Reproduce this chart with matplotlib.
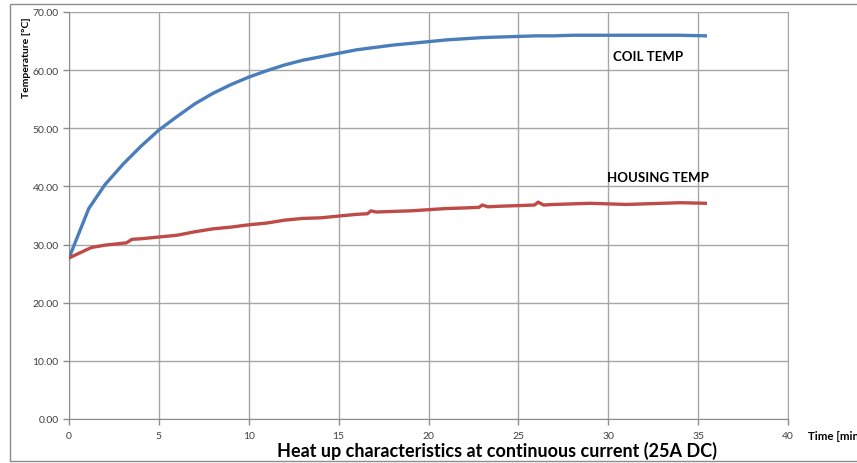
import matplotlib.pyplot as plt
from matplotlib.patches import Rectangle

# coil temperature readings (time in min, temp in °C)
coil_t = [0, 1.1, 2, 3, 4, 5, 6, 7, 8, 9, 10, 11, 12, 13, 14, 15, 16, 17, 18,
          19, 20, 21, 22, 23, 24, 25, 26, 27, 28, 29, 30, 32, 34, 35.4]
coil_temp = [27.7, 36.2, 40.3, 43.8, 46.9, 49.7, 52.0, 54.2, 56.0, 57.5, 58.8,
             59.9, 60.9, 61.7, 62.3, 62.9, 63.5, 63.9, 64.3, 64.6, 64.9, 65.2,
             65.4, 65.6, 65.7, 65.8, 65.9, 65.9, 66.0, 66.0, 66.0, 66.0, 66.0, 65.9]

# housing temperature readings
housing_t = [0, 1.25, 2, 3.2, 3.5, 4, 5, 6, 7, 8, 9, 10, 11, 12, 13, 14, 15, 16,
             16.6, 16.8, 17.1, 18, 19, 20, 21, 22, 22.8, 23.0, 23.3, 24, 25, 25.9,
             26.1, 26.4, 27, 28, 29, 30, 31, 32, 33, 34, 35.4]
housing_temp = [27.7, 29.5, 29.9, 30.3, 30.9, 31.0, 31.3, 31.6, 32.2, 32.7, 33.0,
                33.4, 33.7, 34.2, 34.5, 34.6, 34.9, 35.2, 35.3, 35.8, 35.6, 35.7,
                35.8, 36.0, 36.2, 36.3, 36.4, 36.8, 36.5, 36.6, 36.7, 36.8, 37.3,
                36.8, 36.9, 37.0, 37.1, 37.0, 36.9, 37.0, 37.1, 37.2, 37.1]

x_ticks = [0, 5, 10, 15, 20, 25, 30, 35, 40]
y_ticks = [0, 10, 20, 30, 40, 50, 60, 70]

plt.rcParams['font.family'] = ['Lato', 'DejaVu Sans']

fig = plt.figure(figsize=(8.57, 4.64), dpi=100)

# outer chart border
fig.patches.append(Rectangle((10 / 857, 2 / 464), 1.2, 457 / 464,
                             transform=fig.transFigure, fill=False,
                             edgecolor='#8c8c8c', linewidth=1.0))

ax = fig.add_axes([69 / 857, 44 / 464, 719 / 857, 407 / 464])

ax.plot(coil_t, coil_temp, color='#4a7ebb', linewidth=2.4, zorder=3)
ax.plot(housing_t, housing_temp, color='#be4b48', linewidth=2.4, zorder=3)

ax.set_xlim(0, 40)
ax.set_ylim(0, 70)
ax.set_xticks(x_ticks)
ax.set_yticks(y_ticks)
ax.set_yticklabels(['%.2f' % v for v in y_ticks])
ax.grid(True, color='#a6a6a6', linewidth=1.0)
ax.set_axisbelow(True)

ax.spines['top'].set_visible(False)
ax.spines['right'].set_color('#a6a6a6')
ax.spines['left'].set_color('#8c8c8c')
ax.spines['bottom'].set_color('#8c8c8c')
ax.tick_params(axis='both', labelsize=7.5, colors='#8c8c8c', labelcolor='#404040',
               length=4, width=1)
ax.tick_params(axis='x', pad=5)

ax.text(30.25, 62.4, 'COIL TEMP', fontsize=9.5, fontweight='bold', va='center')
ax.text(29.95, 41.6, 'HOUSING TEMP', fontsize=9.5, fontweight='bold', va='center')

fig.text(27 / 857, 1 - 58 / 464, 'Temperature [°C]', rotation=90, fontsize=7.5,
         fontweight='bold', ha='center', va='center')
# axis title runs off the right edge, as in the original
fig.text(808 / 857, 1 - 437 / 464, 'Time [min]', fontsize=8.3, fontweight='bold',
         ha='left', va='center')
fig.text(497 / 857, 1 - 451 / 464,
         'Heat up characteristics at continuous current (25A DC)',
         fontsize=13, fontweight='bold', ha='center', va='center')

fig.savefig('out.png', dpi=100)
